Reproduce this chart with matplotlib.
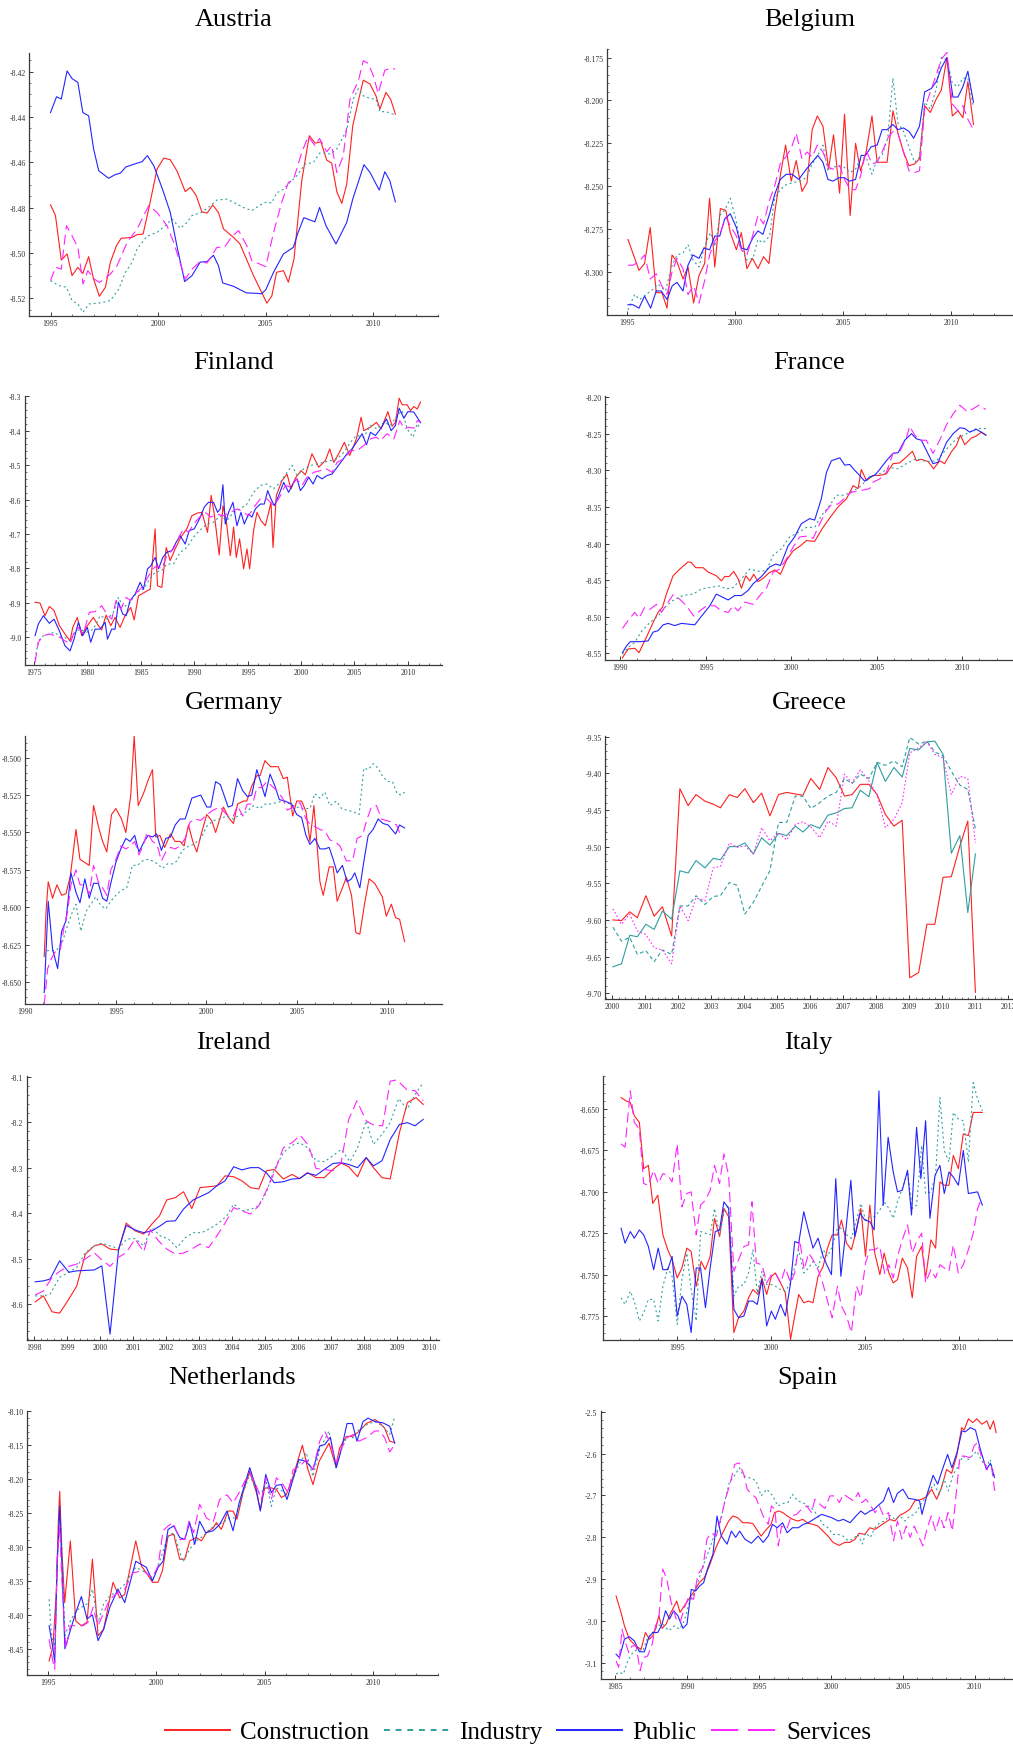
import matplotlib
matplotlib.use('Agg')
import matplotlib.pyplot as plt
from matplotlib.ticker import MultipleLocator, FixedLocator, FormatStrFormatter
from matplotlib.lines import Line2D
import numpy as np

# ---------------------------------------------------------------- data
# each series: list of (year, value)
austria_construction = [(1995.0,-8.4787),(1995.23,-8.4835),(1995.5,-8.5031),(1995.77,-8.5004),(1996.0,-8.510),(1996.27,-8.5063),(1996.5,-8.509),(1996.77,-8.5016),(1997.0,-8.5115),(1997.27,-8.5191),(1997.55,-8.5151),(1997.78,-8.5041),(1998.06,-8.4968),(1998.28,-8.4935),(1998.79,-8.4931),(1999.02,-8.4919),(1999.3,-8.4916),(1999.56,-8.4806),(1999.95,-8.4629),(2000.26,-8.4581),(2000.56,-8.4588),(2000.87,-8.4637),(2001.26,-8.4729),(2001.5,-8.471),(2001.77,-8.4747),(2002.03,-8.4818),(2002.27,-8.4824),(2002.54,-8.4788),(2002.8,-8.4821),(2003.04,-8.4894),(2003.5,-8.4931),(2003.8,-8.496),(2004.43,-8.510),(2005.05,-8.5221),(2005.28,-8.519),(2005.5,-8.5085),(2005.82,-8.5078),(2006.05,-8.5129),(2006.31,-8.5026),(2006.67,-8.4681),(2007.02,-8.4482),(2007.29,-8.4515),(2007.56,-8.4509),(2007.83,-8.459),(2008.06,-8.4603),(2008.3,-8.4729),(2008.53,-8.4781),(2008.76,-8.4696),(2009.04,-8.4438),(2009.3,-8.4328),(2009.53,-8.4237),(2009.84,-8.4254),(2010.12,-8.4306),(2010.3,-8.4365),(2010.58,-8.4291),(2010.8,-8.4321),(2011.02,-8.4387)]
austria_industry = [(1995.0,-8.5122),(1995.39,-8.5144),(1995.74,-8.5151),(1996.0,-8.521),(1996.27,-8.5225),(1996.51,-8.5262),(1996.78,-8.5225),(1997.32,-8.522),(1997.78,-8.521),(1998.17,-8.5159),(1998.48,-8.5085),(1998.79,-8.5041),(1999.02,-8.4982),(1999.48,-8.4926),(1999.95,-8.4909),(2000.33,-8.4879),(2000.64,-8.485),(2001.03,-8.4891),(2001.34,-8.4865),(2001.57,-8.4835),(2002.03,-8.482),(2002.39,-8.4794),(2002.73,-8.4766),(2003.19,-8.4762),(2003.5,-8.4776),(2003.96,-8.4799),(2004.35,-8.4813),(2004.74,-8.4788),(2005.0,-8.4776),(2005.28,-8.4779),(2005.5,-8.4735),(2005.82,-8.4718),(2006.13,-8.4688),(2006.44,-8.4659),(2006.83,-8.4607),(2007.22,-8.46),(2007.5,-8.4559),(2007.75,-8.4559),(2008.0,-8.4563),(2008.3,-8.4541),(2008.76,-8.4456),(2009.07,-8.4318),(2009.3,-8.4274),(2009.53,-8.4306),(2009.84,-8.4318),(2010.12,-8.4321),(2010.3,-8.4376),(2010.6,-8.4376),(2011.02,-8.4391)]
austria_public = [(1995.0,-8.438),(1995.28,-8.431),(1995.5,-8.432),(1995.77,-8.4196),(1996.0,-8.423),(1996.27,-8.4247),(1996.5,-8.438),(1996.77,-8.4394),(1997.0,-8.454),(1997.24,-8.4637),(1997.7,-8.467),(1998.0,-8.4654),(1998.25,-8.4647),(1998.5,-8.462),(1999.0,-8.4604),(1999.25,-8.4597),(1999.5,-8.457),(1999.8,-8.4615),(2000.2,-8.4718),(2000.56,-8.482),(2000.87,-8.4968),(2001.23,-8.5126),(2001.57,-8.510),(2001.95,-8.504),(2002.27,-8.5038),(2002.57,-8.501),(2002.8,-8.5056),(2003.0,-8.5132),(2003.5,-8.5147),(2004.1,-8.5176),(2004.6,-8.5178),(2004.8,-8.518),(2005.0,-8.5162),(2005.36,-8.5085),(2005.82,-8.5004),(2006.28,-8.4975),(2006.5,-8.4909),(2006.77,-8.4844),(2007.28,-8.4862),(2007.5,-8.4799),(2007.8,-8.488),(2008.26,-8.496),(2008.76,-8.4865),(2009.04,-8.4762),(2009.56,-8.461),(2009.84,-8.4644),(2010.27,-8.4722),(2010.53,-8.4641),(2010.76,-8.468),(2011.02,-8.4774)]
austria_services = [(1995.0,-8.5122),(1995.23,-8.5063),(1995.5,-8.5071),(1995.74,-8.4879),(1996.0,-8.4924),(1996.27,-8.4975),(1996.51,-8.5137),(1996.73,-8.5078),(1997.04,-8.5115),(1997.27,-8.513),(1997.78,-8.5093),(1998.09,-8.5056),(1998.56,-8.4953),(1999.02,-8.4894),(1999.56,-8.4791),(1999.95,-8.4821),(2000.41,-8.4879),(2000.72,-8.4953),(2001.26,-8.5115),(2001.57,-8.5071),(2001.95,-8.5038),(2002.27,-8.5044),(2002.73,-8.4975),(2003.08,-8.4975),(2003.43,-8.4926),(2003.74,-8.4901),(2004.13,-8.497),(2004.35,-8.5034),(2005.0,-8.506),(2005.36,-8.4909),(2005.74,-8.4776),(2006.05,-8.4688),(2006.28,-8.4678),(2006.67,-8.4556),(2006.97,-8.4485),(2007.28,-8.4526),(2007.5,-8.4494),(2007.83,-8.4553),(2008.06,-8.4526),(2008.3,-8.4644),(2008.6,-8.4571),(2008.91,-8.4321),(2009.3,-8.424),(2009.53,-8.4151),(2009.76,-8.4163),(2010.0,-8.4218),(2010.22,-8.4296),(2010.53,-8.4193),(2010.8,-8.4184),(2011.0,-8.4188)]

belgium_construction = [(1995.03,-8.281),(1995.26,-8.289),(1995.54,-8.299),(1995.8,-8.295),(1996.06,-8.274),(1996.34,-8.312),(1996.6,-8.312),(1996.84,-8.321),(1997.07,-8.290),(1997.3,-8.294),(1997.58,-8.304),(1997.81,-8.297),(1998.07,-8.318),(1998.32,-8.302),(1998.58,-8.295),(1998.81,-8.257),(1999.05,-8.297),(1999.31,-8.263),(1999.56,-8.264),(1999.77,-8.277),(2000.05,-8.287),(2000.28,-8.277),(2000.54,-8.298),(2000.79,-8.292),(2001.05,-8.298),(2001.31,-8.291),(2001.56,-8.295),(2001.82,-8.266),(2002.08,-8.244),(2002.33,-8.226),(2002.59,-8.247),(2002.82,-8.235),(2003.09,-8.253),(2003.32,-8.248),(2003.56,-8.217),(2003.8,-8.209),(2004.06,-8.215),(2004.32,-8.240),(2004.55,-8.220),(2004.83,-8.254),(2005.06,-8.208),(2005.32,-8.267),(2005.57,-8.225),(2005.8,-8.241),(2006.06,-8.230),(2006.33,-8.209),(2006.57,-8.236),(2007.03,-8.236),(2007.3,-8.206),(2007.53,-8.219),(2007.79,-8.230),(2008.04,-8.238),(2008.3,-8.237),(2008.53,-8.234),(2008.77,-8.203),(2009.03,-8.207),(2009.31,-8.199),(2009.54,-8.194),(2009.8,-8.175),(2010.05,-8.209),(2010.31,-8.206),(2010.54,-8.210),(2010.77,-8.189),(2011.03,-8.214)]
belgium_industry = [(1995.03,-8.322),(1995.34,-8.313),(1995.57,-8.316),(1995.88,-8.313),(1996.19,-8.310),(1996.42,-8.307),(1996.77,-8.311),(1997.04,-8.297),(1997.3,-8.290),(1997.58,-8.289),(1997.81,-8.284),(1998.04,-8.293),(1998.32,-8.297),(1998.58,-8.285),(1998.84,-8.277),(1999.08,-8.285),(1999.28,-8.267),(1999.51,-8.264),(1999.77,-8.257),(2000.02,-8.269),(2000.28,-8.286),(2000.54,-8.293),(2000.82,-8.292),(2001.05,-8.281),(2001.28,-8.283),(2001.59,-8.279),(2001.82,-8.257),(2002.08,-8.252),(2002.36,-8.249),(2002.63,-8.248),(2002.97,-8.247),(2003.29,-8.245),(2003.56,-8.237),(2003.82,-8.232),(2004.06,-8.226),(2004.29,-8.241),(2004.52,-8.239),(2004.8,-8.238),(2005.06,-8.239),(2005.32,-8.242),(2005.57,-8.240),(2005.8,-8.234),(2006.06,-8.233),(2006.33,-8.243),(2006.57,-8.234),(2006.8,-8.232),(2007.06,-8.222),(2007.3,-8.187),(2007.53,-8.213),(2007.79,-8.218),(2008.04,-8.227),(2008.3,-8.236),(2008.53,-8.233),(2008.77,-8.201),(2009.03,-8.205),(2009.31,-8.193),(2009.54,-8.175),(2009.8,-8.176),(2010.05,-8.190),(2010.31,-8.192),(2010.54,-8.187),(2010.77,-8.187),(2011.03,-8.204)]
belgium_public = [(1995.03,-8.319),(1995.26,-8.319),(1995.54,-8.321),(1995.8,-8.314),(1996.08,-8.321),(1996.34,-8.311),(1996.57,-8.311),(1996.84,-8.316),(1997.08,-8.308),(1997.3,-8.306),(1997.58,-8.311),(1997.81,-8.296),(1998.04,-8.290),(1998.32,-8.292),(1998.55,-8.286),(1998.81,-8.287),(1999.05,-8.279),(1999.28,-8.279),(1999.51,-8.269),(1999.77,-8.266),(2000.05,-8.274),(2000.28,-8.286),(2000.54,-8.287),(2000.82,-8.280),(2001.05,-8.276),(2001.28,-8.278),(2001.59,-8.266),(2001.82,-8.255),(2002.08,-8.246),(2002.36,-8.243),(2002.63,-8.243),(2002.94,-8.246),(2003.29,-8.240),(2003.56,-8.236),(2003.82,-8.232),(2004.06,-8.236),(2004.29,-8.246),(2004.52,-8.247),(2004.8,-8.245),(2005.06,-8.245),(2005.29,-8.247),(2005.57,-8.246),(2005.83,-8.232),(2006.03,-8.232),(2006.29,-8.227),(2006.57,-8.226),(2006.8,-8.217),(2007.03,-8.217),(2007.3,-8.214),(2007.53,-8.217),(2007.79,-8.216),(2008.04,-8.218),(2008.26,-8.222),(2008.53,-8.215),(2008.77,-8.195),(2009.08,-8.193),(2009.31,-8.189),(2009.54,-8.181),(2009.8,-8.175),(2010.08,-8.198),(2010.31,-8.198),(2010.54,-8.192),(2010.77,-8.183),(2011.03,-8.201)]
belgium_services = [(1995.03,-8.296),(1995.26,-8.296),(1995.54,-8.294),(1995.8,-8.290),(1996.06,-8.304),(1996.34,-8.301),(1996.6,-8.308),(1996.84,-8.313),(1997.07,-8.300),(1997.3,-8.292),(1997.58,-8.298),(1997.81,-8.313),(1998.07,-8.308),(1998.32,-8.318),(1998.58,-8.305),(1998.81,-8.290),(1999.05,-8.282),(1999.31,-8.277),(1999.56,-8.268),(1999.77,-8.273),(2000.05,-8.279),(2000.28,-8.287),(2000.54,-8.290),(2000.82,-8.278),(2001.05,-8.267),(2001.31,-8.272),(2001.56,-8.259),(2001.82,-8.250),(2002.08,-8.237),(2002.33,-8.233),(2002.59,-8.228),(2002.82,-8.219),(2003.09,-8.234),(2003.32,-8.230),(2003.56,-8.233),(2003.8,-8.226),(2004.06,-8.230),(2004.32,-8.239),(2004.55,-8.240),(2004.83,-8.238),(2005.06,-8.246),(2005.32,-8.252),(2005.57,-8.252),(2005.8,-8.244),(2006.06,-8.229),(2006.33,-8.237),(2006.57,-8.236),(2006.8,-8.230),(2007.06,-8.222),(2007.3,-8.218),(2007.53,-8.219),(2007.79,-8.230),(2008.04,-8.241),(2008.3,-8.242),(2008.53,-8.241),(2008.77,-8.205),(2009.03,-8.195),(2009.31,-8.185),(2009.54,-8.176),(2009.8,-8.172),(2010.05,-8.202),(2010.31,-8.206),(2010.54,-8.203),(2010.77,-8.211),(2011.03,-8.217)]

finland_construction = [(1975.1,-8.898),(1975.56,-8.900),(1976.03,-8.937),(1976.44,-8.910),(1976.88,-8.922),(1977.38,-8.966),(1977.9,-8.990),(1978.38,-9.010),(1978.63,-8.971),(1979.06,-8.942),(1979.47,-8.995),(1980.0,-8.966),(1980.56,-8.942),(1981.03,-8.966),(1981.34,-8.978),(1981.75,-8.935),(1982.19,-8.966),(1982.59,-8.942),(1983.06,-8.971),(1983.53,-8.937),(1984.06,-8.913),(1984.38,-8.949),(1984.78,-8.879),(1985.25,-8.871),(1985.88,-8.860),(1986.34,-8.685),(1986.56,-8.850),(1986.97,-8.855),(1987.38,-8.739),(1987.75,-8.777),(1988.22,-8.743),(1988.75,-8.709),(1989.31,-8.685),(1989.78,-8.647),(1990.31,-8.639),(1990.72,-8.637),(1991.25,-8.695),(1991.59,-8.588),(1991.88,-8.642),(1992.34,-8.761),(1992.69,-8.618),(1993.0,-8.661),(1993.38,-8.763),(1993.69,-8.680),(1993.94,-8.768),(1994.25,-8.714),(1994.63,-8.801),(1994.94,-8.743),(1995.19,-8.801),(1995.56,-8.690),(1995.88,-8.637),(1996.25,-8.661),(1996.66,-8.676),(1996.97,-8.637),(1997.19,-8.608),(1997.38,-8.739),(1997.69,-8.588),(1998.22,-8.545),(1998.69,-8.526),(1999.06,-8.569),(1999.47,-8.538),(2000.0,-8.516),(2000.41,-8.528),(2001.03,-8.467),(2001.66,-8.506),(2002.28,-8.487),(2002.69,-8.453),(2003.06,-8.492),(2003.53,-8.467),(2004.06,-8.434),(2004.56,-8.472),(2005.19,-8.424),(2005.63,-8.361),(2005.88,-8.400),(2006.5,-8.390),(2007.06,-8.376),(2007.5,-8.395),(2008.13,-8.345),(2008.53,-8.387),(2008.84,-8.376),(2009.19,-8.306),(2009.47,-8.325),(2009.94,-8.325),(2010.25,-8.342),(2010.56,-8.330),(2010.88,-8.337),(2011.19,-8.317)]
finland_industry = [(1975.1,-9.063),(1975.41,-9.010),(1975.88,-8.995),(1976.44,-8.990),(1976.88,-8.985),(1977.38,-8.995),(1977.9,-9.000),(1978.38,-9.010),(1978.84,-8.985),(1979.31,-8.976),(1979.94,-8.985),(1980.56,-8.976),(1981.19,-8.937),(1981.88,-8.947),(1982.44,-8.927),(1982.91,-8.884),(1983.38,-8.913),(1984.0,-8.898),(1984.63,-8.869),(1985.25,-8.860),(1985.81,-8.830),(1986.34,-8.811),(1986.97,-8.806),(1987.44,-8.787),(1988.06,-8.787),(1988.69,-8.753),(1989.31,-8.739),(1989.94,-8.709),(1990.5,-8.690),(1991.19,-8.671),(1991.81,-8.666),(1992.44,-8.647),(1993.06,-8.661),(1993.69,-8.637),(1994.31,-8.627),(1994.94,-8.613),(1995.56,-8.579),(1996.19,-8.559),(1996.81,-8.555),(1997.44,-8.569),(1998.06,-8.550),(1998.69,-8.521),(1999.16,-8.501),(1999.63,-8.530),(2000.25,-8.511),(2000.88,-8.501),(2001.5,-8.497),(2002.13,-8.492),(2002.75,-8.487),(2003.38,-8.482),(2004.0,-8.463),(2004.63,-8.434),(2005.19,-8.414),(2005.88,-8.419),(2006.5,-8.385),(2007.13,-8.395),(2007.75,-8.376),(2008.38,-8.385),(2009.0,-8.356),(2009.47,-8.342),(2009.94,-8.395),(2010.5,-8.419),(2010.88,-8.380),(2011.19,-8.395)]
finland_public = [(1975.1,-8.995),(1975.41,-8.961),(1975.88,-8.937),(1976.44,-8.959),(1976.88,-8.947),(1977.38,-8.981),(1977.9,-9.024),(1978.38,-9.039),(1978.75,-9.005),(1979.16,-8.956),(1979.56,-8.995),(1980.0,-8.971),(1980.31,-9.014),(1980.72,-8.976),(1981.19,-8.976),(1981.66,-8.956),(1981.88,-9.005),(1982.28,-8.976),(1982.59,-8.976),(1982.91,-8.898),(1983.31,-8.932),(1983.63,-8.937),(1984.0,-8.893),(1984.47,-8.874),(1984.94,-8.840),(1985.25,-8.860),(1985.63,-8.801),(1985.94,-8.792),(1986.34,-8.768),(1986.66,-8.801),(1987.06,-8.768),(1987.44,-8.753),(1987.91,-8.748),(1988.31,-8.724),(1988.69,-8.705),(1989.16,-8.729),(1989.53,-8.690),(1990.0,-8.685),(1990.5,-8.656),(1990.94,-8.622),(1991.34,-8.608),(1991.81,-8.608),(1992.19,-8.637),(1992.44,-8.627),(1992.69,-8.557),(1992.91,-8.671),(1993.22,-8.637),(1993.63,-8.608),(1994.0,-8.676),(1994.38,-8.637),(1994.69,-8.671),(1995.09,-8.642),(1995.41,-8.651),(1995.72,-8.627),(1996.19,-8.613),(1996.56,-8.613),(1996.88,-8.574),(1997.19,-8.598),(1997.5,-8.618),(1997.91,-8.588),(1998.38,-8.550),(1998.84,-8.579),(1999.31,-8.550),(1999.63,-8.540),(1999.94,-8.574),(2000.31,-8.559),(2000.72,-8.535),(2001.13,-8.555),(2001.5,-8.530),(2001.97,-8.540),(2002.44,-8.530),(2002.91,-8.526),(2003.38,-8.506),(2003.84,-8.487),(2004.31,-8.467),(2004.78,-8.453),(2005.19,-8.434),(2005.72,-8.409),(2006.13,-8.441),(2006.5,-8.405),(2006.97,-8.414),(2007.44,-8.395),(2008.0,-8.366),(2008.44,-8.400),(2008.84,-8.385),(2009.19,-8.335),(2009.63,-8.364),(2010.0,-8.345),(2010.56,-8.346),(2011.19,-8.377)]
finland_services = [(1975.1,-9.073),(1975.41,-9.014),(1975.88,-8.995),(1976.44,-8.990),(1976.97,-8.995),(1977.44,-9.000),(1977.9,-9.010),(1978.38,-9.019),(1978.75,-8.985),(1979.16,-8.971),(1979.63,-8.990),(1980.0,-8.947),(1980.19,-8.927),(1980.72,-8.925),(1981.34,-8.908),(1981.81,-8.932),(1982.28,-8.947),(1982.69,-8.893),(1983.13,-8.918),(1983.63,-8.884),(1984.06,-8.893),(1984.63,-8.869),(1985.09,-8.855),(1985.56,-8.830),(1986.13,-8.801),(1986.5,-8.792),(1986.97,-8.801),(1987.44,-8.763),(1988.06,-8.743),(1988.63,-8.705),(1989.0,-8.685),(1989.47,-8.695),(1989.94,-8.671),(1990.5,-8.651),(1991.03,-8.637),(1991.56,-8.651),(1992.13,-8.642),(1992.69,-8.647),(1993.38,-8.637),(1994.06,-8.627),(1994.63,-8.637),(1995.09,-8.647),(1995.72,-8.617),(1996.19,-8.598),(1996.81,-8.598),(1997.44,-8.618),(1998.0,-8.593),(1998.53,-8.559),(1999.06,-8.564),(1999.56,-8.540),(2000.09,-8.559),(2000.56,-8.535),(2001.19,-8.521),(2001.81,-8.516),(2002.38,-8.511),(2002.91,-8.521),(2003.38,-8.492),(2004.0,-8.482),(2004.63,-8.458),(2005.25,-8.458),(2005.88,-8.443),(2006.5,-8.424),(2007.06,-8.419),(2007.44,-8.429),(2008.06,-8.409),(2008.69,-8.424),(2009.25,-8.371),(2009.69,-8.395),(2010.09,-8.390),(2010.56,-8.393),(2010.88,-8.371),(2011.19,-8.376)]

france_construction = [(1990.12,-8.556),(1990.45,-8.544),(1990.84,-8.543),(1991.09,-8.549),(1991.52,-8.528),(1991.91,-8.508),(1992.2,-8.494),(1992.46,-8.487),(1992.69,-8.469),(1993.08,-8.444),(1993.47,-8.435),(1993.96,-8.425),(1994.15,-8.426),(1994.41,-8.433),(1994.84,-8.433),(1995.13,-8.439),(1995.61,-8.444),(1995.91,-8.451),(1996.1,-8.445),(1996.36,-8.445),(1996.63,-8.438),(1996.88,-8.448),(1997.08,-8.461),(1997.33,-8.444),(1997.57,-8.451),(1997.8,-8.442),(1998.05,-8.452),(1998.38,-8.447),(1998.69,-8.440),(1999.03,-8.436),(1999.36,-8.442),(1999.71,-8.423),(2000.1,-8.410),(2000.53,-8.403),(2000.88,-8.396),(2001.36,-8.397),(2001.85,-8.378),(2002.34,-8.362),(2002.73,-8.350),(2003.22,-8.339),(2003.61,-8.321),(2003.9,-8.325),(2004.09,-8.299),(2004.39,-8.314),(2004.78,-8.307),(2005.16,-8.307),(2005.55,-8.305),(2005.94,-8.291),(2006.33,-8.290),(2006.72,-8.282),(2007.08,-8.274),(2007.31,-8.287),(2007.6,-8.285),(2007.99,-8.288),(2008.32,-8.298),(2008.67,-8.287),(2008.96,-8.291),(2009.35,-8.275),(2009.65,-8.266),(2009.88,-8.252),(2010.14,-8.265),(2010.53,-8.256),(2010.82,-8.253),(2011.11,-8.248),(2011.37,-8.252)]
france_industry = [(1990.12,-8.551),(1990.45,-8.542),(1990.84,-8.535),(1991.23,-8.520),(1991.72,-8.508),(1992.2,-8.499),(1992.69,-8.485),(1993.18,-8.476),(1993.67,-8.471),(1994.25,-8.469),(1994.74,-8.462),(1995.23,-8.460),(1995.81,-8.458),(1996.2,-8.462),(1996.59,-8.460),(1997.08,-8.448),(1997.57,-8.435),(1998.15,-8.438),(1998.54,-8.437),(1998.93,-8.416),(1999.42,-8.407),(1999.9,-8.391),(2000.39,-8.385),(2000.88,-8.378),(2001.36,-8.378),(2001.75,-8.362),(2002.24,-8.348),(2002.63,-8.334),(2003.12,-8.334),(2003.61,-8.328),(2003.99,-8.323),(2004.39,-8.314),(2004.78,-8.307),(2005.16,-8.305),(2005.75,-8.296),(2006.24,-8.298),(2006.72,-8.291),(2007.31,-8.284),(2007.7,-8.287),(2008.09,-8.288),(2008.48,-8.287),(2009.07,-8.271),(2009.65,-8.257),(2010.24,-8.250),(2010.82,-8.243),(2011.37,-8.243)]
france_public = [(1990.12,-8.549),(1990.35,-8.540),(1990.58,-8.534),(1991.13,-8.534),(1991.62,-8.533),(1991.91,-8.521),(1992.2,-8.519),(1992.5,-8.511),(1992.79,-8.509),(1993.18,-8.512),(1993.57,-8.509),(1994.35,-8.511),(1994.75,-8.499),(1995.23,-8.485),(1995.61,-8.469),(1996.3,-8.477),(1996.69,-8.471),(1997.08,-8.471),(1997.47,-8.464),(1997.76,-8.455),(1998.25,-8.445),(1998.73,-8.432),(1999.08,-8.428),(1999.36,-8.430),(1999.81,-8.403),(2000.19,-8.391),(2000.58,-8.373),(2001.07,-8.366),(2001.36,-8.368),(2001.75,-8.339),(2002.05,-8.303),(2002.34,-8.287),(2002.83,-8.283),(2003.12,-8.293),(2003.41,-8.292),(2003.7,-8.300),(2003.99,-8.307),(2004.29,-8.315),(2004.58,-8.309),(2004.87,-8.307),(2005.16,-8.299),(2005.55,-8.287),(2005.94,-8.277),(2006.24,-8.276),(2006.63,-8.259),(2007.02,-8.250),(2007.31,-8.257),(2007.6,-8.259),(2007.94,-8.275),(2008.28,-8.291),(2008.58,-8.289),(2009.07,-8.262),(2009.46,-8.250),(2009.85,-8.242),(2010.14,-8.243),(2010.43,-8.248),(2010.82,-8.244),(2011.11,-8.248),(2011.37,-8.252)]
france_services = [(1990.12,-8.516),(1990.45,-8.505),(1990.84,-8.494),(1991.09,-8.502),(1991.42,-8.487),(1991.72,-8.490),(1992.11,-8.483),(1992.4,-8.494),(1992.79,-8.480),(1993.08,-8.470),(1993.47,-8.476),(1993.86,-8.485),(1994.29,-8.499),(1994.64,-8.492),(1995.04,-8.485),(1995.53,-8.485),(1995.91,-8.492),(1996.3,-8.494),(1996.6,-8.485),(1996.88,-8.492),(1997.27,-8.480),(1997.76,-8.483),(1998.15,-8.471),(1998.54,-8.461),(1998.93,-8.439),(1999.32,-8.435),(1999.71,-8.421),(2000.1,-8.405),(2000.49,-8.391),(2000.88,-8.390),(2001.27,-8.393),(2001.66,-8.373),(2002.05,-8.355),(2002.34,-8.347),(2002.73,-8.346),(2003.12,-8.338),(2003.51,-8.330),(2003.99,-8.328),(2004.58,-8.325),(2004.78,-8.316),(2005.16,-8.312),(2005.55,-8.303),(2005.94,-8.277),(2006.33,-8.275),(2006.72,-8.256),(2006.92,-8.240),(2007.21,-8.252),(2007.5,-8.259),(2007.89,-8.259),(2008.28,-8.277),(2008.67,-8.259),(2009.07,-8.238),(2009.46,-8.223),(2009.85,-8.211),(2010.28,-8.220),(2010.63,-8.216),(2010.98,-8.211),(2011.37,-8.217)]

germany_construction = [(1991.06,-8.633),(1991.16,-8.603),(1991.28,-8.583),(1991.52,-8.594),(1991.76,-8.585),(1992.02,-8.592),(1992.26,-8.591),(1992.5,-8.579),(1992.81,-8.548),(1993.03,-8.568),(1993.54,-8.572),(1993.78,-8.532),(1994.09,-8.548),(1994.28,-8.556),(1994.51,-8.563),(1994.77,-8.538),(1995.01,-8.534),(1995.32,-8.541),(1995.56,-8.550),(1995.83,-8.525),(1996.02,-8.4855),(1996.24,-8.532),(1996.53,-8.524),(1996.79,-8.515),(1997.03,-8.508),(1997.21,-8.553),(1997.44,-8.552),(1997.7,-8.560),(1998.02,-8.551),(1998.28,-8.556),(1998.55,-8.556),(1998.77,-8.559),(1999.01,-8.545),(1999.25,-8.556),(1999.47,-8.563),(1999.74,-8.550),(2000.02,-8.538),(2000.29,-8.542),(2000.51,-8.550),(2000.94,-8.533),(2001.22,-8.540),(2001.49,-8.544),(2001.72,-8.531),(2002.04,-8.529),(2002.23,-8.529),(2002.5,-8.519),(2002.78,-8.512),(2002.96,-8.512),(2003.23,-8.502),(2003.54,-8.506),(2003.96,-8.506),(2004.24,-8.514),(2004.46,-8.513),(2004.76,-8.539),(2004.98,-8.529),(2005.25,-8.529),(2005.49,-8.536),(2005.71,-8.556),(2005.93,-8.532),(2006.26,-8.583),(2006.44,-8.592),(2006.77,-8.573),(2006.99,-8.573),(2007.21,-8.596),(2007.5,-8.587),(2007.72,-8.580),(2008.0,-8.592),(2008.24,-8.617),(2008.46,-8.618),(2008.73,-8.597),(2008.97,-8.581),(2009.28,-8.584),(2009.7,-8.593),(2009.92,-8.606),(2010.2,-8.598),(2010.43,-8.607),(2010.65,-8.608),(2010.93,-8.623)]
germany_industry = [(1991.06,-8.632),(1991.25,-8.629),(1991.52,-8.629),(1991.8,-8.628),(1992.07,-8.623),(1992.35,-8.612),(1992.62,-8.603),(1992.81,-8.598),(1993.08,-8.616),(1993.36,-8.603),(1993.63,-8.598),(1993.91,-8.593),(1994.18,-8.599),(1994.46,-8.601),(1994.73,-8.596),(1995.01,-8.592),(1995.28,-8.589),(1995.61,-8.587),(1995.92,-8.572),(1996.2,-8.572),(1996.48,-8.569),(1996.75,-8.568),(1997.03,-8.569),(1997.3,-8.571),(1997.58,-8.574),(1997.85,-8.571),(1998.13,-8.571),(1998.39,-8.569),(1998.67,-8.562),(1999.04,-8.559),(1999.31,-8.558),(1999.69,-8.554),(2000.02,-8.546),(2000.39,-8.542),(2000.75,-8.541),(2001.11,-8.539),(2001.49,-8.541),(2001.86,-8.538),(2002.23,-8.536),(2002.59,-8.532),(2002.96,-8.534),(2003.23,-8.531),(2003.51,-8.531),(2003.87,-8.530),(2004.24,-8.529),(2004.61,-8.531),(2004.98,-8.533),(2005.34,-8.534),(2005.71,-8.534),(2005.98,-8.524),(2006.26,-8.527),(2006.53,-8.523),(2006.81,-8.532),(2007.17,-8.529),(2007.45,-8.534),(2007.72,-8.535),(2008.06,-8.536),(2008.42,-8.538),(2008.68,-8.507),(2008.92,-8.508),(2009.19,-8.504),(2009.47,-8.507),(2009.74,-8.513),(2010.02,-8.516),(2010.26,-8.516),(2010.51,-8.524),(2010.75,-8.525),(2010.93,-8.523)]
germany_public = [(1991.06,-8.657),(1991.28,-8.596),(1991.52,-8.628),(1991.8,-8.641),(1992.02,-8.616),(1992.26,-8.609),(1992.53,-8.577),(1992.81,-8.590),(1993.03,-8.597),(1993.3,-8.581),(1993.54,-8.594),(1993.78,-8.584),(1994.04,-8.584),(1994.28,-8.594),(1994.51,-8.596),(1994.73,-8.584),(1995.01,-8.570),(1995.28,-8.561),(1995.56,-8.554),(1995.79,-8.556),(1996.05,-8.552),(1996.28,-8.563),(1996.57,-8.556),(1996.79,-8.552),(1997.03,-8.553),(1997.26,-8.551),(1997.52,-8.562),(1997.76,-8.554),(1998.02,-8.553),(1998.28,-8.545),(1998.55,-8.541),(1998.83,-8.541),(1999.2,-8.527),(1999.69,-8.525),(2000.02,-8.533),(2000.24,-8.533),(2000.51,-8.516),(2000.77,-8.518),(2001.2,-8.533),(2001.43,-8.532),(2001.72,-8.514),(2002.0,-8.522),(2002.26,-8.526),(2002.5,-8.525),(2002.78,-8.508),(2002.96,-8.515),(2003.23,-8.526),(2003.51,-8.511),(2003.78,-8.519),(2004.02,-8.528),(2004.33,-8.529),(2004.7,-8.531),(2004.98,-8.538),(2005.25,-8.540),(2005.49,-8.552),(2005.71,-8.558),(2005.98,-8.554),(2006.26,-8.561),(2006.53,-8.561),(2006.77,-8.560),(2006.99,-8.568),(2007.21,-8.577),(2007.5,-8.572),(2007.76,-8.583),(2008.0,-8.581),(2008.18,-8.577),(2008.46,-8.587),(2008.7,-8.568),(2008.92,-8.552),(2009.19,-8.548),(2009.47,-8.541),(2009.74,-8.544),(2010.02,-8.545),(2010.43,-8.551),(2010.65,-8.545),(2010.93,-8.547)]
germany_services = [(1991.06,-8.665),(1991.25,-8.641),(1991.43,-8.635),(1991.65,-8.630),(1991.94,-8.629),(1992.17,-8.612),(1992.35,-8.603),(1992.53,-8.585),(1992.81,-8.575),(1993.03,-8.585),(1993.3,-8.585),(1993.54,-8.591),(1993.78,-8.572),(1994.04,-8.583),(1994.28,-8.587),(1994.51,-8.592),(1994.73,-8.575),(1995.01,-8.568),(1995.28,-8.559),(1995.56,-8.561),(1995.83,-8.559),(1996.05,-8.556),(1996.28,-8.565),(1996.51,-8.559),(1996.73,-8.550),(1997.03,-8.556),(1997.28,-8.558),(1997.52,-8.569),(1997.76,-8.563),(1998.02,-8.560),(1998.28,-8.561),(1998.55,-8.559),(1998.83,-8.554),(1999.1,-8.543),(1999.38,-8.541),(1999.69,-8.542),(2000.02,-8.538),(2000.39,-8.535),(2000.75,-8.533),(2001.11,-8.538),(2001.49,-8.539),(2001.72,-8.532),(2002.0,-8.539),(2002.26,-8.531),(2002.55,-8.531),(2002.78,-8.520),(2003.05,-8.520),(2003.34,-8.516),(2003.61,-8.519),(2003.89,-8.522),(2004.2,-8.527),(2004.46,-8.535),(2004.79,-8.533),(2005.16,-8.530),(2005.49,-8.541),(2005.74,-8.545),(2005.98,-8.546),(2006.26,-8.548),(2006.53,-8.549),(2006.81,-8.555),(2007.08,-8.556),(2007.36,-8.559),(2007.72,-8.569),(2008.06,-8.569),(2008.31,-8.554),(2008.61,-8.552),(2008.83,-8.542),(2009.1,-8.533),(2009.38,-8.532),(2009.65,-8.541),(2009.92,-8.542),(2010.2,-8.543),(2010.48,-8.545),(2010.75,-8.553)]

greece_construction = [(2000.02,-9.600),(2000.28,-9.601),(2000.53,-9.589),(2000.76,-9.597),(2001.02,-9.567),(2001.27,-9.595),(2001.52,-9.582),(2001.8,-9.622),(2002.05,-9.421),(2002.3,-9.444),(2002.54,-9.429),(2002.81,-9.438),(2003.06,-9.442),(2003.28,-9.447),(2003.55,-9.429),(2003.79,-9.433),(2004.02,-9.421),(2004.28,-9.440),(2004.53,-9.427),(2004.78,-9.458),(2005.04,-9.429),(2005.29,-9.426),(2005.78,-9.430),(2006.02,-9.407),(2006.29,-9.422),(2006.54,-9.392),(2006.79,-9.406),(2007.04,-9.431),(2007.27,-9.429),(2007.52,-9.415),(2007.78,-9.415),(2008.03,-9.429),(2008.28,-9.456),(2008.54,-9.472),(2008.79,-9.464),(2009.02,-9.679),(2009.29,-9.672),(2009.54,-9.606),(2009.78,-9.606),(2010.03,-9.542),(2010.28,-9.541),(2010.54,-9.499),(2010.78,-9.465),(2011.01,-9.699)]
greece_industry = [(2000.02,-9.610),(2000.28,-9.629),(2000.53,-9.624),(2000.76,-9.647),(2001.02,-9.642),(2001.27,-9.657),(2001.52,-9.641),(2001.8,-9.647),(2002.05,-9.581),(2002.3,-9.581),(2002.54,-9.567),(2002.81,-9.579),(2003.06,-9.568),(2003.28,-9.567),(2003.55,-9.549),(2003.79,-9.553),(2004.02,-9.592),(2004.28,-9.576),(2004.53,-9.554),(2004.78,-9.533),(2005.04,-9.467),(2005.29,-9.467),(2005.55,-9.431),(2005.78,-9.431),(2006.02,-9.448),(2006.29,-9.440),(2006.54,-9.431),(2006.79,-9.426),(2007.04,-9.407),(2007.27,-9.414),(2007.52,-9.401),(2007.78,-9.407),(2008.03,-9.385),(2008.28,-9.389),(2008.54,-9.383),(2008.79,-9.391),(2009.02,-9.351),(2009.29,-9.360),(2009.54,-9.356),(2009.78,-9.371),(2010.03,-9.376),(2010.28,-9.397),(2010.54,-9.416),(2010.78,-9.422),(2011.01,-9.476)]
greece_public = [(2000.02,-9.664),(2000.28,-9.660),(2000.53,-9.621),(2000.76,-9.623),(2001.02,-9.606),(2001.27,-9.613),(2001.52,-9.588),(2001.8,-9.599),(2002.05,-9.533),(2002.3,-9.536),(2002.54,-9.519),(2002.81,-9.529),(2003.06,-9.516),(2003.28,-9.518),(2003.55,-9.500),(2003.79,-9.500),(2004.02,-9.495),(2004.28,-9.510),(2004.53,-9.488),(2004.78,-9.498),(2005.04,-9.482),(2005.29,-9.485),(2005.55,-9.472),(2005.78,-9.480),(2006.02,-9.470),(2006.29,-9.475),(2006.54,-9.457),(2006.79,-9.454),(2007.04,-9.448),(2007.27,-9.447),(2007.52,-9.423),(2007.78,-9.432),(2008.03,-9.385),(2008.28,-9.411),(2008.54,-9.392),(2008.79,-9.405),(2009.02,-9.366),(2009.29,-9.368),(2009.54,-9.357),(2009.78,-9.356),(2010.03,-9.374),(2010.28,-9.509),(2010.54,-9.485),(2010.78,-9.590),(2011.01,-9.510)]
greece_services = [(2000.02,-9.585),(2000.28,-9.606),(2000.53,-9.592),(2000.76,-9.615),(2001.02,-9.620),(2001.27,-9.638),(2001.52,-9.641),(2001.8,-9.660),(2002.05,-9.581),(2002.3,-9.601),(2002.54,-9.570),(2002.81,-9.574),(2003.06,-9.529),(2003.28,-9.527),(2003.55,-9.495),(2003.79,-9.501),(2004.02,-9.499),(2004.28,-9.510),(2004.53,-9.474),(2004.78,-9.492),(2005.04,-9.481),(2005.29,-9.491),(2005.55,-9.470),(2005.78,-9.466),(2006.02,-9.473),(2006.29,-9.488),(2006.54,-9.465),(2006.79,-9.472),(2007.04,-9.401),(2007.27,-9.413),(2007.52,-9.395),(2007.78,-9.410),(2008.03,-9.429),(2008.28,-9.474),(2008.54,-9.463),(2008.79,-9.440),(2009.02,-9.372),(2009.29,-9.365),(2009.54,-9.357),(2009.78,-9.374),(2010.03,-9.379),(2010.28,-9.429),(2010.54,-9.404),(2010.78,-9.407),(2011.01,-9.495)]

ireland_construction = [(1998.03,-8.595),(1998.28,-8.582),(1998.54,-8.617),(1998.77,-8.620),(1999.05,-8.589),(1999.29,-8.560),(1999.55,-8.490),(1999.82,-8.472),(2000.05,-8.468),(2000.3,-8.479),(2000.56,-8.481),(2000.79,-8.422),(2001.06,-8.439),(2001.32,-8.446),(2001.57,-8.424),(2001.8,-8.406),(2002.02,-8.371),(2002.28,-8.366),(2002.53,-8.353),(2002.78,-8.390),(2003.03,-8.344),(2003.29,-8.342),(2003.54,-8.340),(2003.79,-8.318),(2004.05,-8.320),(2004.3,-8.329),(2004.56,-8.344),(2004.81,-8.347),(2005.04,-8.307),(2005.28,-8.304),(2005.56,-8.325),(2005.82,-8.315),(2006.05,-8.324),(2006.29,-8.311),(2006.55,-8.322),(2006.8,-8.322),(2007.06,-8.304),(2007.31,-8.290),(2007.54,-8.298),(2007.81,-8.320),(2008.07,-8.278),(2008.29,-8.300),(2008.55,-8.322),(2008.8,-8.325),(2009.08,-8.223),(2009.32,-8.157),(2009.58,-8.146),(2009.8,-8.161)]
ireland_industry = [(1998.03,-8.582),(1998.28,-8.582),(1998.48,-8.578),(1998.77,-8.541),(1999.05,-8.530),(1999.29,-8.519),(1999.55,-8.487),(1999.82,-8.472),(2000.05,-8.466),(2000.3,-8.472),(2000.56,-8.478),(2000.81,-8.457),(2001.06,-8.456),(2001.32,-8.472),(2001.57,-8.432),(2001.82,-8.450),(2002.07,-8.457),(2002.33,-8.476),(2002.58,-8.454),(2002.83,-8.443),(2003.08,-8.443),(2003.33,-8.434),(2003.59,-8.422),(2003.84,-8.406),(2004.05,-8.380),(2004.3,-8.395),(2004.56,-8.392),(2004.81,-8.384),(2005.04,-8.355),(2005.28,-8.304),(2005.56,-8.267),(2005.82,-8.251),(2006.05,-8.245),(2006.29,-8.256),(2006.55,-8.285),(2006.8,-8.287),(2007.06,-8.274),(2007.31,-8.260),(2007.58,-8.287),(2007.81,-8.256),(2008.07,-8.197),(2008.29,-8.249),(2008.55,-8.227),(2008.8,-8.201),(2009.06,-8.148),(2009.31,-8.172),(2009.56,-8.139),(2009.8,-8.113)]
ireland_public = [(1998.03,-8.551),(1998.28,-8.549),(1998.48,-8.545),(1998.77,-8.505),(1999.05,-8.530),(1999.29,-8.527),(1999.82,-8.525),(2000.05,-8.516),(2000.3,-8.666),(2000.56,-8.479),(2000.79,-8.427),(2001.06,-8.437),(2001.32,-8.443),(2001.57,-8.439),(2001.82,-8.428),(2002.02,-8.418),(2002.28,-8.417),(2002.53,-8.391),(2002.82,-8.371),(2003.03,-8.364),(2003.29,-8.355),(2003.54,-8.340),(2003.79,-8.329),(2004.05,-8.298),(2004.3,-8.305),(2004.56,-8.300),(2004.81,-8.300),(2005.04,-8.311),(2005.28,-8.333),(2005.56,-8.331),(2005.82,-8.325),(2006.05,-8.324),(2006.29,-8.312),(2006.55,-8.317),(2006.8,-8.304),(2007.06,-8.291),(2007.31,-8.289),(2007.54,-8.293),(2007.81,-8.300),(2008.07,-8.278),(2008.29,-8.296),(2008.55,-8.285),(2008.8,-8.238),(2009.08,-8.205),(2009.32,-8.201),(2009.55,-8.208),(2009.8,-8.194)]
ireland_services = [(1998.03,-8.580),(1998.28,-8.571),(1998.54,-8.541),(1998.79,-8.527),(1999.05,-8.517),(1999.29,-8.512),(1999.55,-8.501),(1999.82,-8.487),(2000.05,-8.503),(2000.3,-8.517),(2000.56,-8.497),(2000.79,-8.487),(2001.06,-8.457),(2001.32,-8.485),(2001.52,-8.437),(2001.77,-8.461),(2002.02,-8.479),(2002.28,-8.490),(2002.53,-8.488),(2002.78,-8.479),(2003.03,-8.468),(2003.29,-8.476),(2003.54,-8.450),(2003.79,-8.422),(2004.05,-8.388),(2004.3,-8.395),(2004.56,-8.402),(2004.81,-8.384),(2005.04,-8.351),(2005.28,-8.311),(2005.56,-8.256),(2005.82,-8.245),(2006.07,-8.229),(2006.32,-8.251),(2006.55,-8.302),(2006.8,-8.304),(2007.06,-8.307),(2007.31,-8.289),(2007.54,-8.194),(2007.79,-8.153),(2008.07,-8.197),(2008.31,-8.207),(2008.57,-8.208),(2008.8,-8.110),(2009.0,-8.107),(2009.31,-8.129),(2009.56,-8.131),(2009.8,-8.153)]

italy_construction = [(1992.04,-8.643),(1992.3,-8.645),(1992.53,-8.646),(1992.74,-8.654),(1993.01,-8.658),(1993.24,-8.686),(1993.49,-8.684),(1993.72,-8.707),(1993.99,-8.702),(1994.26,-8.726),(1994.52,-8.735),(1994.75,-8.741),(1995.02,-8.752),(1995.27,-8.746),(1995.53,-8.734),(1995.76,-8.736),(1996.03,-8.757),(1996.29,-8.742),(1996.51,-8.747),(1996.77,-8.739),(1997.0,-8.716),(1997.27,-8.727),(1997.5,-8.710),(1997.75,-8.715),(1998.03,-8.785),(1998.28,-8.776),(1998.56,-8.772),(1998.81,-8.764),(1999.04,-8.759),(1999.31,-8.762),(1999.52,-8.752),(1999.77,-8.762),(2000.02,-8.751),(2000.23,-8.749),(2000.51,-8.755),(2000.76,-8.761),(2001.04,-8.789),(2001.26,-8.775),(2001.47,-8.762),(2001.74,-8.767),(2002.0,-8.766),(2002.23,-8.767),(2002.5,-8.751),(2002.77,-8.745),(2003.0,-8.734),(2003.25,-8.726),(2003.53,-8.726),(2003.74,-8.717),(2004.01,-8.731),(2004.27,-8.735),(2004.54,-8.723),(2004.77,-8.710),(2005.02,-8.739),(2005.25,-8.708),(2005.51,-8.737),(2005.78,-8.750),(2006.01,-8.737),(2006.26,-8.749),(2006.49,-8.755),(2006.72,-8.753),(2006.97,-8.740),(2007.25,-8.746),(2007.5,-8.764),(2007.73,-8.739),(2008.0,-8.733),(2008.21,-8.752),(2008.49,-8.729),(2008.74,-8.734),(2008.97,-8.694),(2009.2,-8.696),(2009.45,-8.696),(2009.68,-8.678),(2009.95,-8.686),(2010.21,-8.665),(2010.48,-8.666),(2010.74,-8.652),(2010.97,-8.652),(2011.22,-8.652)]
italy_industry = [(1992.04,-8.764),(1992.25,-8.768),(1992.53,-8.760),(1992.74,-8.766),(1993.01,-8.778),(1993.24,-8.773),(1993.49,-8.765),(1993.77,-8.765),(1994.01,-8.778),(1994.26,-8.757),(1994.52,-8.746),(1994.75,-8.751),(1995.02,-8.780),(1995.27,-8.753),(1995.53,-8.737),(1995.76,-8.759),(1996.03,-8.778),(1996.26,-8.724),(1996.52,-8.725),(1996.77,-8.726),(1997.0,-8.710),(1997.27,-8.726),(1997.5,-8.713),(1997.75,-8.708),(1998.03,-8.763),(1998.28,-8.757),(1998.56,-8.756),(1998.81,-8.749),(1999.04,-8.735),(1999.27,-8.761),(1999.52,-8.748),(1999.77,-8.756),(2000.02,-8.756),(2000.23,-8.757),(2000.51,-8.759),(2000.76,-8.760),(2001.04,-8.755),(2001.26,-8.745),(2001.47,-8.735),(2001.74,-8.749),(2002.0,-8.746),(2002.23,-8.742),(2002.5,-8.746),(2002.77,-8.735),(2003.0,-8.739),(2003.25,-8.733),(2003.53,-8.722),(2003.74,-8.722),(2004.01,-8.726),(2004.27,-8.728),(2004.54,-8.717),(2004.77,-8.707),(2005.02,-8.717),(2005.25,-8.715),(2005.51,-8.715),(2005.78,-8.711),(2006.01,-8.706),(2006.26,-8.710),(2006.49,-8.716),(2006.72,-8.706),(2006.97,-8.698),(2007.25,-8.688),(2007.5,-8.710),(2007.73,-8.708),(2008.0,-8.672),(2008.21,-8.701),(2008.49,-8.700),(2008.74,-8.690),(2008.97,-8.643),(2009.2,-8.675),(2009.45,-8.682),(2009.68,-8.652),(2009.95,-8.656),(2010.21,-8.657),(2010.48,-8.682),(2010.74,-8.634),(2010.97,-8.644),(2011.22,-8.651)]
italy_public = [(1992.04,-8.722),(1992.25,-8.731),(1992.53,-8.724),(1992.74,-8.728),(1993.01,-8.723),(1993.24,-8.726),(1993.49,-8.733),(1993.77,-8.747),(1994.01,-8.734),(1994.26,-8.747),(1994.52,-8.747),(1994.75,-8.739),(1995.02,-8.775),(1995.27,-8.763),(1995.53,-8.768),(1995.76,-8.785),(1996.03,-8.746),(1996.26,-8.746),(1996.52,-8.770),(1996.77,-8.746),(1997.04,-8.724),(1997.27,-8.723),(1997.5,-8.706),(1997.75,-8.710),(1998.03,-8.771),(1998.28,-8.776),(1998.56,-8.775),(1998.81,-8.766),(1999.04,-8.766),(1999.27,-8.768),(1999.52,-8.753),(1999.77,-8.781),(2000.02,-8.772),(2000.23,-8.777),(2000.51,-8.768),(2000.76,-8.775),(2001.04,-8.755),(2001.26,-8.730),(2001.47,-8.731),(2001.74,-8.712),(2002.0,-8.724),(2002.23,-8.734),(2002.5,-8.728),(2002.77,-8.739),(2003.0,-8.745),(2003.21,-8.750),(2003.44,-8.692),(2003.71,-8.751),(2003.96,-8.725),(2004.24,-8.693),(2004.45,-8.727),(2004.72,-8.713),(2004.98,-8.717),(2005.25,-8.718),(2005.48,-8.723),(2005.73,-8.639),(2005.96,-8.708),(2006.22,-8.667),(2006.49,-8.688),(2006.72,-8.700),(2006.97,-8.699),(2007.25,-8.687),(2007.46,-8.714),(2007.73,-8.661),(2007.96,-8.692),(2008.21,-8.657),(2008.44,-8.716),(2008.71,-8.690),(2008.97,-8.684),(2009.2,-8.701),(2009.45,-8.688),(2009.68,-8.691),(2009.95,-8.696),(2010.21,-8.675),(2010.48,-8.701),(2010.97,-8.700),(2011.22,-8.708)]
italy_services = [(1992.04,-8.671),(1992.25,-8.673),(1992.53,-8.639),(1992.74,-8.658),(1993.01,-8.662),(1993.24,-8.695),(1993.49,-8.696),(1993.77,-8.687),(1994.01,-8.695),(1994.26,-8.689),(1994.52,-8.690),(1994.75,-8.694),(1995.02,-8.671),(1995.27,-8.709),(1995.53,-8.701),(1995.76,-8.700),(1996.03,-8.726),(1996.26,-8.708),(1996.52,-8.705),(1996.77,-8.699),(1997.0,-8.684),(1997.27,-8.695),(1997.5,-8.677),(1997.75,-8.690),(1998.03,-8.748),(1998.28,-8.741),(1998.56,-8.733),(1998.81,-8.732),(1998.99,-8.706),(1999.22,-8.743),(1999.52,-8.744),(1999.77,-8.755),(2000.02,-8.750),(2000.23,-8.749),(2000.51,-8.755),(2000.76,-8.746),(2001.04,-8.755),(2001.26,-8.749),(2001.52,-8.729),(2001.76,-8.747),(2002.0,-8.737),(2002.23,-8.741),(2002.5,-8.747),(2002.77,-8.756),(2003.0,-8.766),(2003.25,-8.776),(2003.53,-8.757),(2003.74,-8.769),(2004.01,-8.775),(2004.27,-8.785),(2004.54,-8.757),(2004.77,-8.764),(2005.02,-8.743),(2005.25,-8.735),(2005.51,-8.735),(2005.78,-8.733),(2006.05,-8.750),(2006.26,-8.744),(2006.49,-8.752),(2006.72,-8.739),(2006.97,-8.729),(2007.25,-8.720),(2007.5,-8.737),(2007.73,-8.730),(2008.0,-8.725),(2008.21,-8.755),(2008.49,-8.747),(2008.74,-8.752),(2008.97,-8.744),(2009.2,-8.746),(2009.45,-8.748),(2009.68,-8.732),(2009.95,-8.749),(2010.21,-8.744),(2010.48,-8.735),(2010.74,-8.725),(2010.97,-8.710),(2011.22,-8.703)]

netherlands_construction = [(1995.05,-8.468),(1995.23,-8.446),(1995.38,-8.367),(1995.48,-8.259),(1995.54,-8.218),(1995.63,-8.299),(1995.77,-8.382),(1996.03,-8.291),(1996.28,-8.409),(1996.54,-8.416),(1996.8,-8.411),(1997.05,-8.318),(1997.31,-8.431),(1997.57,-8.421),(1998.0,-8.352),(1998.31,-8.375),(1998.54,-8.370),(1999.05,-8.291),(1999.31,-8.328),(1999.54,-8.338),(1999.82,-8.352),(2000.08,-8.352),(2000.28,-8.335),(2000.54,-8.284),(2000.8,-8.281),(2001.08,-8.318),(2001.31,-8.318),(2001.54,-8.291),(2001.85,-8.286),(2002.08,-8.291),(2002.31,-8.279),(2002.62,-8.272),(2002.77,-8.264),(2003.0,-8.274),(2003.31,-8.247),(2003.54,-8.247),(2003.72,-8.259),(2004.0,-8.220),(2004.31,-8.188),(2004.62,-8.220),(2004.8,-8.245),(2005.0,-8.213),(2005.31,-8.213),(2005.54,-8.215),(2005.77,-8.227),(2006.0,-8.223),(2006.31,-8.196),(2006.74,-8.150),(2007.0,-8.186),(2007.23,-8.208),(2007.51,-8.174),(2007.97,-8.147),(2008.28,-8.181),(2008.46,-8.154),(2008.77,-8.137),(2009.05,-8.137),(2009.38,-8.129),(2009.69,-8.118),(2010.08,-8.112),(2010.31,-8.117),(2010.54,-8.125),(2010.77,-8.144),(2011.0,-8.146)]
netherlands_industry = [(1995.05,-8.377),(1995.15,-8.426),(1995.31,-8.450),(1995.46,-8.299),(1995.57,-8.254),(1995.66,-8.318),(1995.78,-8.431),(1996.0,-8.411),(1996.28,-8.394),(1996.54,-8.389),(1996.8,-8.384),(1997.05,-8.362),(1997.31,-8.411),(1997.57,-8.384),(1997.85,-8.372),(1998.23,-8.365),(1998.54,-8.355),(1999.05,-8.330),(1999.54,-8.338),(1999.82,-8.348),(2000.08,-8.328),(2000.54,-8.284),(2000.8,-8.279),(2001.23,-8.322),(2001.54,-8.303),(2001.85,-8.291),(2002.15,-8.284),(2002.46,-8.274),(2002.77,-8.267),(2003.08,-8.264),(2003.38,-8.257),(2003.69,-8.257),(2004.0,-8.220),(2004.31,-8.193),(2004.62,-8.218),(2004.85,-8.220),(2005.08,-8.205),(2005.31,-8.240),(2005.54,-8.213),(2005.85,-8.218),(2006.08,-8.225),(2006.31,-8.198),(2006.62,-8.176),(2006.92,-8.161),(2007.23,-8.196),(2007.54,-8.156),(2007.97,-8.129),(2008.28,-8.183),(2008.54,-8.156),(2008.8,-8.137),(2009.08,-8.139),(2009.35,-8.127),(2009.69,-8.120),(2010.08,-8.115),(2010.46,-8.122),(2010.77,-8.134),(2011.0,-8.108)]
netherlands_public = [(1995.05,-8.416),(1995.23,-8.450),(1995.31,-8.470),(1995.42,-8.328),(1995.54,-8.240),(1995.63,-8.318),(1995.78,-8.450),(1996.0,-8.426),(1996.28,-8.397),(1996.54,-8.373),(1996.8,-8.406),(1997.05,-8.400),(1997.31,-8.438),(1997.57,-8.421),(1997.85,-8.389),(1998.23,-8.362),(1998.54,-8.382),(1999.05,-8.321),(1999.54,-8.330),(1999.82,-8.350),(2000.08,-8.330),(2000.31,-8.321),(2000.54,-8.274),(2000.8,-8.269),(2001.08,-8.286),(2001.31,-8.289),(2001.54,-8.264),(2001.77,-8.296),(2002.0,-8.262),(2002.28,-8.279),(2002.62,-8.276),(2002.92,-8.267),(2003.26,-8.247),(2003.54,-8.276),(2003.82,-8.235),(2004.08,-8.208),(2004.31,-8.183),(2004.58,-8.210),(2004.8,-8.247),(2005.05,-8.193),(2005.31,-8.220),(2005.54,-8.209),(2005.77,-8.208),(2006.03,-8.230),(2006.31,-8.200),(2006.58,-8.171),(2006.92,-8.174),(2007.23,-8.186),(2007.54,-8.151),(2007.77,-8.149),(2008.03,-8.138),(2008.31,-8.183),(2008.54,-8.156),(2008.8,-8.118),(2009.05,-8.118),(2009.26,-8.144),(2009.54,-8.115),(2009.77,-8.110),(2010.08,-8.115),(2010.46,-8.117),(2010.77,-8.122),(2011.0,-8.147)]
netherlands_services = [(1995.05,-8.436),(1995.2,-8.465),(1995.31,-8.480),(1995.42,-8.318),(1995.54,-8.269),(1995.63,-8.343),(1995.82,-8.450),(1996.03,-8.416),(1996.31,-8.416),(1996.62,-8.416),(1996.85,-8.411),(1997.08,-8.389),(1997.31,-8.416),(1997.57,-8.397),(1997.85,-8.377),(1998.23,-8.367),(1998.54,-8.362),(1998.92,-8.338),(1999.38,-8.335),(1999.82,-8.345),(2000.08,-8.328),(2000.31,-8.276),(2000.54,-8.269),(2000.77,-8.264),(2001.08,-8.289),(2001.31,-8.289),(2001.51,-8.262),(2001.72,-8.279),(2002.0,-8.237),(2002.31,-8.257),(2002.62,-8.264),(2002.92,-8.230),(2003.26,-8.223),(2003.54,-8.235),(2003.82,-8.220),(2004.08,-8.203),(2004.31,-8.191),(2004.62,-8.210),(2004.85,-8.230),(2005.08,-8.198),(2005.31,-8.230),(2005.54,-8.198),(2005.85,-8.208),(2006.08,-8.220),(2006.31,-8.186),(2006.62,-8.181),(2006.92,-8.171),(2007.23,-8.186),(2007.54,-8.144),(2007.77,-8.129),(2008.03,-8.147),(2008.31,-8.176),(2008.54,-8.154),(2008.8,-8.139),(2009.08,-8.134),(2009.35,-8.144),(2009.69,-8.139),(2010.08,-8.129),(2010.31,-8.129),(2010.54,-8.139),(2010.77,-8.160),(2011.0,-8.149)]

spain_construction = [(1985.05,-2.940),(1985.39,-2.979),(1985.63,-3.011),(1985.97,-3.043),(1986.44,-3.060),(1986.79,-3.067),(1987.09,-3.027),(1987.37,-3.043),(1987.6,-3.035),(1987.83,-3.015),(1988.02,-2.987),(1988.25,-3.017),(1988.53,-3.007),(1988.81,-2.983),(1988.99,-2.971),(1989.27,-2.952),(1989.5,-2.979),(1989.8,-2.963),(1990.1,-2.948),(1990.49,-2.928),(1990.84,-2.908),(1991.19,-2.896),(1991.54,-2.868),(1992.0,-2.824),(1992.47,-2.789),(1992.88,-2.761),(1993.17,-2.749),(1993.51,-2.753),(1993.86,-2.765),(1994.21,-2.765),(1994.56,-2.767),(1994.83,-2.781),(1995.14,-2.797),(1995.48,-2.782),(1995.83,-2.769),(1996.07,-2.741),(1996.37,-2.737),(1996.65,-2.741),(1997.0,-2.750),(1997.34,-2.757),(1997.69,-2.761),(1998.04,-2.757),(1998.39,-2.766),(1998.74,-2.769),(1999.09,-2.773),(1999.44,-2.785),(1999.79,-2.797),(2000.14,-2.812),(2000.56,-2.819),(2000.96,-2.812),(2001.31,-2.812),(2001.66,-2.805),(2001.96,-2.790),(2002.35,-2.793),(2002.7,-2.777),(2003.05,-2.781),(2003.4,-2.773),(2003.74,-2.765),(2004.09,-2.757),(2004.44,-2.761),(2004.79,-2.747),(2005.14,-2.741),(2005.48,-2.733),(2005.83,-2.713),(2006.3,-2.709),(2006.65,-2.703),(2007.0,-2.685),(2007.35,-2.709),(2007.69,-2.681),(2008.04,-2.638),(2008.39,-2.647),(2008.74,-2.606),(2009.09,-2.538),(2009.26,-2.544),(2009.56,-2.517),(2009.86,-2.526),(2010.14,-2.517),(2010.49,-2.530),(2010.84,-2.522),(2011.07,-2.542),(2011.3,-2.522),(2011.49,-2.550)]
spain_industry = [(1985.05,-3.126),(1985.28,-3.122),(1985.56,-3.126),(1985.86,-3.095),(1986.21,-3.075),(1986.55,-3.067),(1986.9,-3.071),(1987.25,-3.039),(1987.6,-3.027),(1987.95,-3.011),(1988.3,-3.007),(1988.72,-3.023),(1989.11,-3.011),(1989.46,-3.019),(1989.8,-2.999),(1990.15,-2.955),(1990.49,-2.932),(1990.84,-2.896),(1991.19,-2.860),(1991.54,-2.828),(1991.88,-2.793),(1992.23,-2.777),(1992.58,-2.717),(1992.93,-2.669),(1993.28,-2.653),(1993.63,-2.634),(1993.91,-2.653),(1994.28,-2.657),(1994.79,-2.665),(1995.14,-2.701),(1995.53,-2.685),(1995.95,-2.701),(1996.3,-2.725),(1996.65,-2.719),(1997.0,-2.717),(1997.3,-2.697),(1997.69,-2.713),(1998.04,-2.717),(1998.39,-2.725),(1998.74,-2.733),(1999.09,-2.749),(1999.44,-2.769),(1999.79,-2.777),(2000.14,-2.793),(2000.49,-2.793),(2000.84,-2.797),(2001.19,-2.808),(2001.53,-2.804),(2001.88,-2.793),(2002.18,-2.816),(2002.42,-2.789),(2002.74,-2.800),(2003.05,-2.777),(2003.4,-2.765),(2003.74,-2.761),(2004.09,-2.747),(2004.44,-2.757),(2004.79,-2.749),(2005.14,-2.761),(2005.48,-2.749),(2005.83,-2.745),(2006.18,-2.725),(2006.53,-2.707),(2006.83,-2.689),(2007.16,-2.673),(2007.53,-2.697),(2007.86,-2.661),(2008.16,-2.689),(2008.51,-2.649),(2008.86,-2.630),(2009.16,-2.606),(2009.56,-2.614),(2009.91,-2.602),(2010.14,-2.594),(2010.49,-2.618),(2010.84,-2.630),(2011.07,-2.614),(2011.35,-2.653)]
spain_public = [(1985.05,-3.079),(1985.28,-3.087),(1985.63,-3.043),(1985.97,-3.037),(1986.32,-3.047),(1986.67,-3.073),(1987.02,-3.073),(1987.32,-3.039),(1987.6,-3.027),(1987.95,-3.027),(1988.25,-3.007),(1988.49,-2.975),(1988.77,-2.995),(1989.05,-2.975),(1989.35,-2.987),(1989.7,-3.017),(1989.98,-3.007),(1990.28,-2.924),(1990.58,-2.928),(1990.86,-2.916),(1991.14,-2.908),(1991.44,-2.872),(1991.79,-2.840),(1992.07,-2.749),(1992.37,-2.797),(1992.77,-2.816),(1993.07,-2.785),(1993.37,-2.800),(1993.65,-2.785),(1994.0,-2.804),(1994.46,-2.814),(1994.93,-2.797),(1995.28,-2.812),(1995.63,-2.797),(1995.93,-2.769),(1996.26,-2.777),(1996.63,-2.765),(1996.95,-2.789),(1997.32,-2.777),(1997.73,-2.777),(1998.07,-2.769),(1998.42,-2.765),(1998.88,-2.755),(1999.35,-2.745),(1999.7,-2.749),(2000.05,-2.753),(2000.51,-2.761),(2000.86,-2.757),(2001.33,-2.765),(2001.74,-2.749),(2002.07,-2.737),(2002.37,-2.745),(2002.72,-2.737),(2003.0,-2.733),(2003.3,-2.723),(2003.65,-2.713),(2004.0,-2.681),(2004.35,-2.717),(2004.62,-2.695),(2005.0,-2.685),(2005.39,-2.707),(2005.79,-2.709),(2006.16,-2.713),(2006.33,-2.745),(2006.72,-2.693),(2007.1,-2.652),(2007.42,-2.673),(2007.72,-2.641),(2008.11,-2.602),(2008.41,-2.634),(2008.76,-2.598),(2009.11,-2.546),(2009.35,-2.548),(2009.7,-2.538),(2010.05,-2.544),(2010.39,-2.590),(2010.81,-2.638),(2011.09,-2.623),(2011.37,-2.657)]
spain_services = [(1985.05,-3.095),(1985.23,-3.110),(1985.46,-3.019),(1985.7,-3.051),(1985.93,-3.075),(1986.16,-3.059),(1986.44,-3.059),(1986.72,-3.118),(1986.95,-3.087),(1987.25,-3.083),(1987.56,-3.055),(1987.79,-3.011),(1988.02,-2.995),(1988.3,-2.876),(1988.58,-2.900),(1988.88,-2.955),(1989.23,-2.995),(1989.51,-3.003),(1989.81,-2.967),(1990.12,-2.940),(1990.44,-2.948),(1990.74,-2.888),(1991.09,-2.872),(1991.37,-2.804),(1991.67,-2.789),(1992.02,-2.797),(1992.37,-2.749),(1992.72,-2.701),(1993.0,-2.669),(1993.3,-2.626),(1993.6,-2.622),(1993.93,-2.649),(1994.17,-2.685),(1994.47,-2.697),(1994.77,-2.705),(1995.05,-2.729),(1995.28,-2.749),(1995.63,-2.769),(1995.86,-2.725),(1996.09,-2.733),(1996.33,-2.820),(1996.56,-2.773),(1996.91,-2.781),(1997.25,-2.749),(1997.6,-2.745),(1997.95,-2.733),(1998.3,-2.725),(1998.65,-2.741),(1998.88,-2.709),(1999.23,-2.721),(1999.58,-2.731),(1999.93,-2.701),(2000.28,-2.701),(2000.58,-2.717),(2000.86,-2.697),(2001.21,-2.705),(2001.56,-2.713),(2001.9,-2.693),(2002.14,-2.717),(2002.44,-2.709),(2002.77,-2.725),(2003.07,-2.741),(2003.37,-2.725),(2003.65,-2.749),(2004.0,-2.741),(2004.35,-2.808),(2004.62,-2.761),(2004.93,-2.804),(2005.23,-2.773),(2005.51,-2.800),(2005.79,-2.773),(2006.09,-2.797),(2006.39,-2.820),(2006.67,-2.781),(2006.97,-2.749),(2007.27,-2.785),(2007.58,-2.749),(2007.86,-2.777),(2008.14,-2.741),(2008.44,-2.785),(2008.67,-2.709),(2008.97,-2.606),(2009.3,-2.606),(2009.67,-2.610),(2009.95,-2.582),(2010.18,-2.574),(2010.53,-2.614),(2010.88,-2.638),(2011.16,-2.630),(2011.39,-2.689)]

# y tick labels per panel
austria_yticks = [-8.52, -8.50, -8.48, -8.46, -8.44, -8.42]
belgium_yticks = [-8.300, -8.275, -8.250, -8.225, -8.200, -8.175]
finland_yticks = [-9.0, -8.9, -8.8, -8.7, -8.6, -8.5, -8.4, -8.3]
france_yticks = [-8.55, -8.50, -8.45, -8.40, -8.35, -8.30, -8.25, -8.20]
germany_yticks = [-8.650, -8.625, -8.600, -8.575, -8.550, -8.525, -8.500]
greece_yticks = [-9.70, -9.65, -9.60, -9.55, -9.50, -9.45, -9.40, -9.35]
ireland_yticks = [-8.6, -8.5, -8.4, -8.3, -8.2, -8.1]
italy_yticks = [-8.775, -8.750, -8.725, -8.700, -8.675, -8.650]
netherlands_yticks = [-8.45, -8.40, -8.35, -8.30, -8.25, -8.20, -8.15, -8.10]
spain_yticks = [-3.1, -3.0, -2.9, -2.8, -2.7, -2.6, -2.5]

series_names = ['Construction', 'Industry', 'Public', 'Services']

# ---------------------------------------------------------------- styles
RED = '#ff2020'
TEAL = '#2f9e9e'
BLUE = '#2424ff'
MAG = '#ff22ff'
LW = 0.8
STYLE = {
    'Construction': dict(color=RED, ls='-'),
    'Industry': dict(color=TEAL, ls=(0, (1.8, 2.6))),
    'Public': dict(color=BLUE, ls='-'),
    'Services': dict(color=MAG, ls=(0, (9, 4.5))),
}
GREECE_STYLE = {
    'Construction': dict(color=RED, ls='-'),
    'Industry': dict(color=TEAL, ls=(0, (3.5, 2.5))),
    'Public': dict(color=TEAL, ls='-'),
    'Services': dict(color=MAG, ls=(0, (1.4, 2.0))),
}

W, H = 1013, 1749
fig = plt.figure(figsize=(W / 100, H / 100), dpi=100)

TICKFONT = dict(family=['Liberation Serif', 'DejaVu Serif'], size=5.6)

panels = [
    ('Austria', [austria_construction, austria_industry, austria_public, austria_services],
     (29, 54, 438, 317), (1994.0, 2013.0), (-8.5278, -8.4117), austria_yticks, '%.2f', 5, 1, STYLE, (1995, 2010)),
    ('Belgium', [belgium_construction, belgium_industry, belgium_public, belgium_services],
     (607, 50, 1013, 316), (1994.06, 2012.86), (-8.325, -8.170), belgium_yticks, '%.3f', 5, 1, STYLE, (1995, 2010)),
    ('Finland', [finland_construction, finland_industry, finland_public, finland_services],
     (25, 397, 442, 666), (1974.16, 2013.2), (-9.080, -8.2995), finland_yticks, '%.1f', 5, 1, STYLE, (1975, 2010)),
    ('France', [france_construction, france_industry, france_public, france_services],
     (605, 397, 1013, 661), (1989.1, 2012.96), (-8.559, -8.1986), france_yticks, '%.2f', 5, 1, STYLE, (1990, 2010)),
    ('Germany', [germany_construction, germany_industry, germany_public, germany_services],
     (25, 737, 442, 1005), (1990.0, 2012.99), (-8.6647, -8.4855), germany_yticks, '%.3f', 5, 1, STYLE, (1990, 2010)),
    ('Greece', [greece_construction, greece_industry, greece_public, greece_services],
     (605, 737, 1013, 1000), (1999.78, 2012.15), (-9.708, -9.349), greece_yticks, '%.2f', 1, None, GREECE_STYLE, (2000, 2012)),
    ('Ireland', [ireland_construction, ireland_industry, ireland_public, ireland_services],
     (27, 1077, 439, 1341), (1997.78, 2010.28), (-8.679, -8.0985), ireland_yticks, '%.1f', 1, None, STYLE, (1998, 2010)),
    ('Italy', [italy_construction, italy_industry, italy_public, italy_services],
     (603, 1077, 1013, 1341), (1991.08, 2012.85), (-8.7895, -8.630), italy_yticks, '%.3f', 5, 1, STYLE, (1995, 2010)),
    ('Netherlands', [netherlands_construction, netherlands_industry, netherlands_public, netherlands_services],
     (27, 1412, 438, 1676), (1994.03, 2013.0), (-8.4887, -8.0995), netherlands_yticks, '%.2f', 5, 1, STYLE, (1995, 2010)),
    ('Spain', [spain_construction, spain_industry, spain_public, spain_services],
     (601, 1412, 1013, 1680), (1984.0, 2012.66), (-3.138, -2.4984), spain_yticks, '%.1f', 5, 1, STYLE, (1985, 2010)),
]

AXCOL = '#3a3a3a'
TITLE_Y = {54: 20, 50: 20, 397: 363, 737: 703, 1077: 1043, 1412: 1378}

for (title, data, (l, t, r, b), xlim, ylim, yticks, yfmt, xmaj, xmin, style, xlabrange) in panels:
    ax = fig.add_axes([l / W, 1 - b / H, (r - l) / W, (b - t) / H])
    ax.set_facecolor('none')
    for name, series in zip(series_names, data):
        xs = [p[0] for p in series]
        ys = [p[1] for p in series]
        st = style[name]
        ax.plot(xs, ys, color=st['color'], linestyle=st['ls'], lw=LW,
                solid_joinstyle='round', dash_capstyle='butt', clip_on=True)
    ax.set_xlim(*xlim)
    ax.set_ylim(*ylim)
    for s in ['top', 'right']:
        ax.spines[s].set_visible(False)
    for s in ['left', 'bottom']:
        ax.spines[s].set_color(AXCOL)
        ax.spines[s].set_linewidth(0.9)
    xt = np.arange(xlabrange[0], xlabrange[1] + 0.01, xmaj)
    ax.xaxis.set_major_locator(FixedLocator(xt))
    ax.xaxis.set_major_formatter(FormatStrFormatter('%d'))
    if xmin:
        ax.xaxis.set_minor_locator(MultipleLocator(xmin))
    else:
        ax.xaxis.set_minor_locator(MultipleLocator(0.2))
    ax.yaxis.set_major_locator(FixedLocator(yticks))
    ystep = abs(yticks[1] - yticks[0])
    nsub = 4 if abs(ystep - 0.02) < 1e-9 else 5
    ax.yaxis.set_minor_locator(MultipleLocator(ystep / nsub))
    ax.yaxis.set_major_formatter(FormatStrFormatter(yfmt))
    ax.tick_params(which='major', direction='in', length=3.2, width=0.7, color=AXCOL, pad=2.5)
    ax.tick_params(which='minor', direction='in', length=1.7, width=0.5, color=AXCOL)
    for lab in ax.get_xticklabels() + ax.get_yticklabels():
        lab.set_fontfamily(TICKFONT['family'])
        lab.set_fontsize(TICKFONT['size'])
        lab.set_color('#333333')
    cx = (l + r) / 2 if r < 1000 else (l + 1013) / 2
    fig.text(cx / W, 1 - TITLE_Y[t] / H, title, ha='center', va='center',
             fontsize=19, family=['Liberation Serif', 'DejaVu Serif'], color='black')

# legend
legend_ls = {'Construction': '-', 'Industry': (0, (3, 3)), 'Public': '-', 'Services': (0, (14, 5))}
handles = [Line2D([], [], color=STYLE[n]['color'], linestyle=legend_ls[n], lw=1.4) for n in series_names]
fig.legend(handles, series_names, loc='center', bbox_to_anchor=(518 / W, 1 - 1733 / H),
           ncol=4, frameon=False, handlelength=2.6, handletextpad=0.4, columnspacing=0.6,
           prop=dict(family=['Liberation Serif', 'DejaVu Serif'], size=18))

fig.savefig('out.png', dpi=100)
